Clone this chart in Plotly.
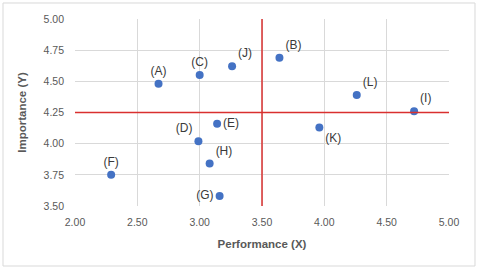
import plotly.graph_objects as go

labels = ["(A)", "(B)", "(C)", "(D)", "(E)", "(F)", "(G)", "(H)", "(I)", "(J)", "(K)", "(L)"]
performance = [2.67, 3.64, 3.00, 2.99, 3.14, 2.29, 3.16, 3.08, 4.72, 3.26, 3.96, 4.26]
importance = [4.48, 4.69, 4.55, 4.02, 4.16, 3.75, 3.58, 3.84, 4.26, 4.62, 4.13, 4.39]
label_pos = ["top center", "top right", "top center", "top left", "middle right", "top center",
             "middle left", "top right", "top right", "top right", "bottom right", "top right"]
x_ref = 3.5
y_ref = 4.25
x_ticks = [2.0, 2.5, 3.0, 3.5, 4.0, 4.5, 5.0]
y_ticks = [3.5, 3.75, 4.0, 4.25, 4.5, 4.75, 5.0]

fig = go.Figure()
fig.add_trace(go.Scatter(
    x=performance, y=importance, mode="markers+text",
    text=labels, textposition=label_pos,
    textfont=dict(family="Liberation Sans", size=12, color="#3A3A3A"),
    marker=dict(size=8, color="#4472C4"),
    cliponaxis=False, showlegend=False, hoverinfo="skip",
))

fig.add_shape(type="line", xref="x", yref="y", x0=x_ref, x1=x_ref, y0=3.5, y1=5.0,
              line=dict(color="#D9302F", width=1.5))
fig.add_shape(type="line", xref="x", yref="y", x0=2.0, x1=5.01, y0=y_ref, y1=y_ref,
              line=dict(color="#D9302F", width=1.5))
# outer chart border
fig.add_shape(type="rect", xref="paper", yref="paper", x0=-0.1925, x1=1.0695, y0=-0.3209, y1=1.0856,
              line=dict(color="#D9D9D9", width=1))

axis_common = dict(showgrid=True, gridcolor="#D9D9D9", gridwidth=1, zeroline=False,
                   showline=False, ticks="", tickformat=".2f",
                   tickfont=dict(family="Liberation Sans", size=10.5, color="#595959"))
fig.update_xaxes(range=[2.0, 5.0], tickvals=x_ticks, ticklabelstandoff=8, **axis_common,
                 title=dict(text="<b>Performance (X)</b>", standoff=13,
                            font=dict(family="Liberation Sans", size=11.5, color="#595959")))
fig.update_yaxes(range=[3.5, 5.0], tickvals=y_ticks, ticklabelstandoff=10, **axis_common,
                 title=dict(text="<b>Importance (Y)</b>", standoff=14,
                            font=dict(family="Liberation Sans", size=11.5, color="#595959")))

fig.update_layout(width=480, height=272, margin=dict(l=75, r=31, t=19, b=66),
                  plot_bgcolor="white", paper_bgcolor="white")
fig.write_html("out.html", config={"displayModeBar": False},
               post_script="document.body.style.margin='0';")
